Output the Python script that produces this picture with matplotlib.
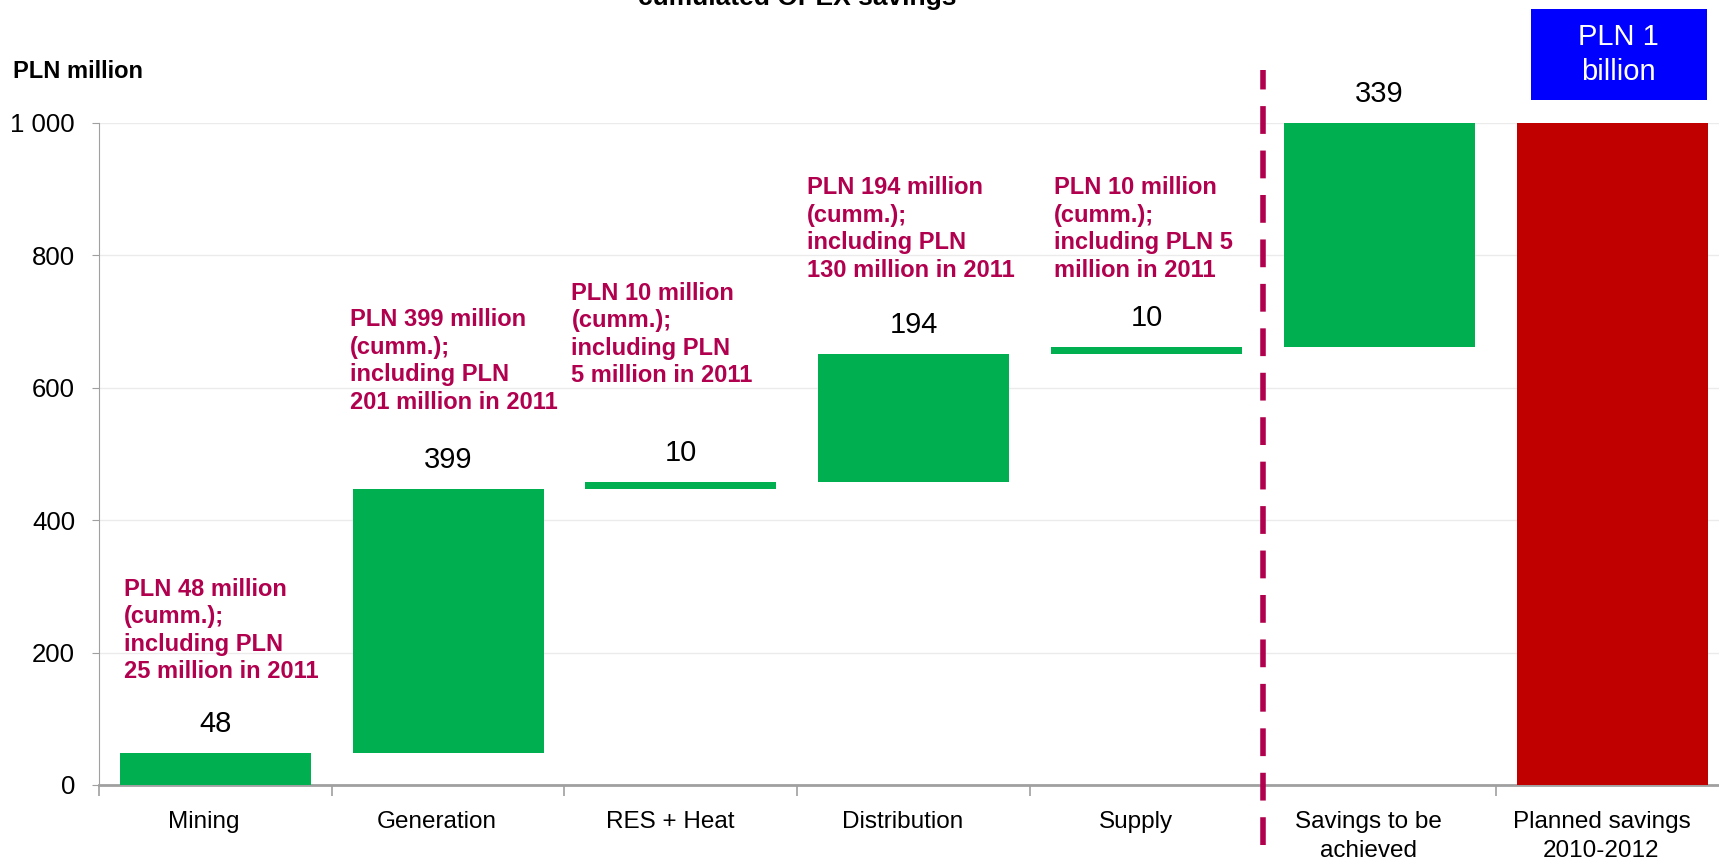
import matplotlib.pyplot as plt
from matplotlib.ticker import FuncFormatter
from matplotlib.transforms import ScaledTranslation

# data
categories = ["Mining", "Generation", "RES + Heat", "Distribution", "Supply",
              "Savings to be\nachieved", "Planned savings\n2010-2012"]
savings = [48, 399, 10, 194, 10]
to_be_achieved = 339
planned_total = 1000
notes = [
    "PLN 48 million\n(cumm.);\nincluding PLN\n25 million in 2011",
    "PLN 399 million\n(cumm.);\nincluding PLN\n201 million in 2011",
    "PLN 10 million\n(cumm.);\nincluding PLN\n5 million in 2011",
    "PLN 194 million\n(cumm.);\nincluding PLN\n130 million in 2011",
    "PLN 10 million\n(cumm.);\nincluding PLN 5\nmillion in 2011",
]
yticks = [0, 200, 400, 600, 800, 1000]

# layout of the notes (left x offset from bar centre, top in axis units)
note_dx = [-0.39, -0.42, -0.47, -0.46, -0.40]
note_top = [313, 720, 760, 919, 919]

GREEN = "#00B050"
RED = "#C00000"
BLUE = "#0000FF"
MAGENTA = "#B0004E"

plt.rcParams["font.family"] = ["Liberation Sans", "DejaVu Sans"]

fig = plt.figure(figsize=(17.19, 8.67), dpi=100)
ax = fig.add_axes([0.0574, 0.0946, 0.9484, 0.7638])

# waterfall bars
bottoms = []
running = 0
for v in savings:
    bottoms.append(running)
    running += v
steps = savings + [to_be_achieved]
bottoms.append(running)
width = 0.82
xs = list(range(len(steps)))
ax.bar(xs, steps, bottom=bottoms, width=width, color=GREEN, zorder=3)
ax.bar(len(steps), planned_total, width=width, color=RED, zorder=3)

# value labels
for x, b, v in zip(xs, bottoms, steps):
    ax.annotate(str(v), (x, b + v), xytext=(0, 21), textcoords="offset points",
                ha="center", va="center", fontsize=21, color="black")

# magenta notes
for x, dx, top, txt in zip(xs, note_dx, note_top, notes):
    ax.text(x + dx, top, txt, ha="left", va="top", fontsize=17,
            fontweight="bold", color=MAGENTA, linespacing=1.25)

# dashed separator
ax.plot([4.5, 4.5], [-90, 1080], color=MAGENTA, lw=4, ls=(0, (5, 3)),
        clip_on=False, zorder=4)

ax.set_xlim(-0.5, 6.5)
ax.set_ylim(0, 1000)
ax.set_yticks(yticks)
ax.yaxis.set_major_formatter(FuncFormatter(lambda v, p: f"{int(v):,}".replace(",", " ")))
ax.grid(axis="y", color="#EBEBEB", lw=1, zorder=0)
ax.set_xticks(range(len(categories)))
ax.set_xticklabels(categories, fontsize=17.5, linespacing=1.4)
ax.set_xticks([i - 0.5 for i in range(len(categories) + 1)], minor=True)
ax.tick_params(axis="x", which="major", length=0, pad=19)
ax.tick_params(axis="x", which="minor", length=8, color="#A0A0A0", width=1.2)
ax.tick_params(axis="y", labelsize=18.5, length=5, color="#A0A0A0", pad=12)

# category labels sit a little left of the bar centres
shift = ScaledTranslation(-8 / 72, 0, fig.dpi_scale_trans)
for lbl in ax.get_xticklabels():
    lbl.set_transform(lbl.get_transform() + shift)

for s in ["top", "right"]:
    ax.spines[s].set_visible(False)
ax.spines["left"].set_color("#A0A0A0")
ax.spines["bottom"].set_color("#A0A0A0")
ax.spines["bottom"].set_linewidth(2)

# header texts
fig.text(0.4636, 1.002, "cumulated OPEX savings", ha="center", va="center",
         fontsize=19, fontweight="bold")
fig.text(0.0076, 0.917, "PLN million", ha="left", va="center",
         fontsize=17, fontweight="bold")
fig.patches.append(plt.Rectangle((0.8906, 0.8847), 0.1024, 0.1049,
                                 transform=fig.transFigure, facecolor=BLUE,
                                 edgecolor="none", zorder=0))
fig.text(0.9413, 0.937, "PLN 1\nbillion", ha="center", va="center",
         fontsize=21, color="white", linespacing=1.35)

fig.savefig("out.png", dpi=100)
